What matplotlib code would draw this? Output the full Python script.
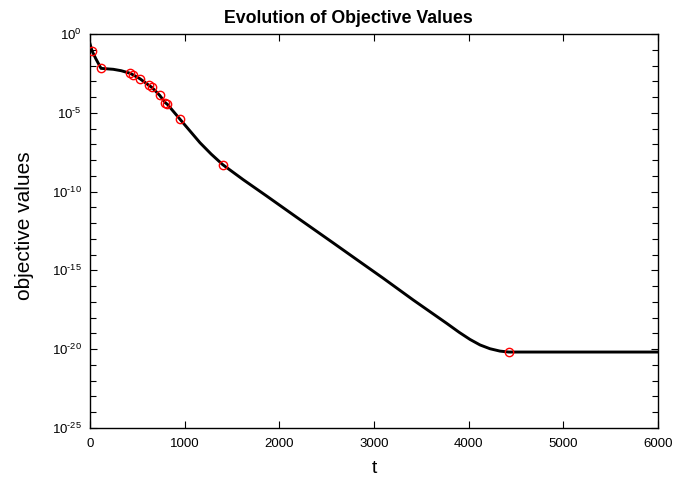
import numpy as np
import matplotlib
matplotlib.use("Agg")
import matplotlib.pyplot as plt
from matplotlib.ticker import FixedLocator, FuncFormatter

plt.rcParams["font.family"] = ["Liberation Sans", "DejaVu Sans"]
plt.rcParams["mathtext.fontset"] = "custom"
plt.rcParams["mathtext.rm"] = "Liberation Sans"
plt.rcParams["mathtext.it"] = "Liberation Sans:italic"
plt.rcParams["mathtext.bf"] = "Liberation Sans:bold"

# objective value trajectory (time, log10 of objective)
curve_t = [0, 21, 60, 116, 180, 246, 330, 423, 457, 528, 623, 652, 736, 795,
           817, 951, 1060, 1162, 1280, 1402, 1620, 1866, 2200, 2570, 2850,
           3098, 3415, 3768, 3900, 4014, 4120, 4225, 4330, 4423, 5000, 6000]
curve_log = [-0.62, -1.06, -1.55, -2.18, -2.21, -2.24, -2.33, -2.49, -2.60,
             -2.84, -3.26, -3.38, -3.89, -4.36, -4.46, -5.41, -6.18, -6.90,
             -7.62, -8.29, -9.25, -10.28, -11.70, -13.26, -14.45, -15.50,
             -16.88, -18.36, -18.93, -19.38, -19.73, -19.97, -20.12, -20.18,
             -20.18, -20.18]

# sampled iterates marked on the curve
mark_t = [21, 116, 423, 457, 528, 623, 652, 736, 795, 817, 951, 1402, 4423]
mark_log = [-1.06, -2.18, -2.49, -2.60, -2.84, -3.26, -3.38, -3.89, -4.36,
            -4.46, -5.41, -8.29, -20.18]

x_ticks = [0, 1000, 2000, 3000, 4000, 5000, 6000]
y_major = [-25, -20, -15, -10, -5, 0]

W, H = 673, 479
fig = plt.figure(figsize=(W / 100, H / 100), dpi=100)
ax = fig.add_axes([90 / W, 1 - 428 / H, 568 / W, 394 / H])

ax.semilogy(curve_t, 10.0 ** np.array(curve_log), color="black", lw=2.1,
            solid_joinstyle="round", zorder=2)
ax.semilogy(mark_t, 10.0 ** np.array(mark_log), linestyle="none", marker="o",
            markersize=6, markerfacecolor="none", markeredgecolor="red",
            markeredgewidth=1.0, zorder=3)

ax.set_xlim(0, 6000)
ax.set_ylim(1e-25, 1e0)
ax.xaxis.set_major_locator(FixedLocator(x_ticks))
ax.yaxis.set_major_locator(FixedLocator([10.0 ** e for e in y_major]))
ax.yaxis.set_minor_locator(FixedLocator([10.0 ** e for e in range(-25, 1)]))


def decade_label(v, pos):
    e = int(round(np.log10(v)))
    if e < 0:
        return r"$\mathregular{10^{\text{-}%d}}$" % (-e)
    return r"$\mathregular{10^{%d}}$" % e


ax.yaxis.set_major_formatter(FuncFormatter(decade_label))
ax.yaxis.set_minor_formatter(FuncFormatter(lambda v, p: ""))

ax.tick_params(which="both", direction="in", top=True, right=True,
               labelsize=9.5, width=0.8, colors="black")
ax.tick_params(which="major", length=5)
ax.tick_params(which="minor", length=4)
ax.tick_params(axis="y", pad=6)
ax.tick_params(axis="x", pad=7)
for s in ax.spines.values():
    s.set_linewidth(1.0)

fig.text(348 / W, 1 - 22.7 / H, "Evolution of Objective Values", fontsize=12.8,
         fontweight="bold", ha="center", va="baseline")
fig.text(374 / W, 1 - 473 / H, "t", fontsize=14, ha="center", va="baseline")
fig.text(25 / W, 1 - 226 / H, "objective values", fontsize=15, rotation=90,
         ha="center", va="center")

fig.savefig("out.png", dpi=100)
